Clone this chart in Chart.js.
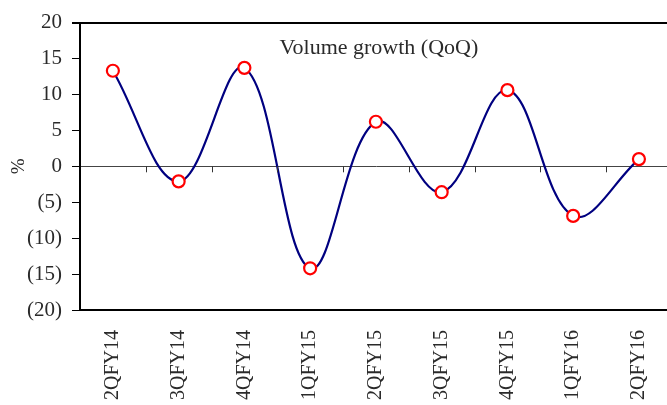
<!DOCTYPE html>
<html>
<head>
<meta charset="utf-8">
<script src="https://cdn.jsdelivr.net/npm/chart.js@4/dist/chart.umd.min.js"></script>
<style>
  html, body { margin: 0; padding: 0; background: #fff; overflow: hidden; }
  #wrap { position: relative; width: 680px; height: 405px; }
</style>
</head>
<body>
<div id="wrap"><canvas id="c"></canvas></div>
<script>
const quarters = ['2QFY14', '3QFY14', '4QFY14', '1QFY15', '2QFY15', '3QFY15', '4QFY15', '1QFY16', '2QFY16'];
const volumeGrowth = [13.3, -2.1, 13.7, -14.2, 6.2, -3.6, 10.6, -6.9, 1.0];
const yTicks = [-20, -15, -10, -5, 0, 5, 10, 15, 20];
const chartTitle = 'Volume growth (QoQ)';
const axisTitle = '%';

const FONT = '"Liberation Serif", "DejaVu Serif", serif';
const TEXT = '#2a2a2a';

// Small tick marks on the zero line between categories, plus the in-plot title
const extras = {
  id: 'extras',
  afterDatasetsDraw(chart) {
    const { ctx, chartArea, scales: { x, y } } = chart;
    const y0 = y.getPixelForValue(0);
    ctx.save();
    ctx.strokeStyle = '#333';
    ctx.lineWidth = 1;
    for (let i = 1; i < quarters.length; i++) {
      const px = Math.round((x.getPixelForValue(i - 1) + x.getPixelForValue(i)) / 2) + 0.5;
      ctx.beginPath();
      ctx.moveTo(px, y0);
      ctx.lineTo(px, y0 + 6);
      ctx.stroke();
    }
    ctx.fillStyle = TEXT;
    ctx.font = '22px ' + FONT;
    ctx.textAlign = 'center';
    ctx.textBaseline = 'middle';
    ctx.fillText(chartTitle, (chartArea.left + chartArea.right) / 2 + 3, chartArea.top + 26);
    ctx.restore();
  }
};

new Chart(document.getElementById('c'), {
  type: 'line',
  data: {
    labels: quarters,
    datasets: [{
      data: volumeGrowth,
      borderColor: '#000080',
      borderWidth: 2.2,
      tension: 0.38,
      pointRadius: 6,
      pointBorderWidth: 2.2,
      pointBorderColor: '#ff0000',
      pointBackgroundColor: '#ffffff',
      clip: false
    }]
  },
  options: {
    responsive: true,
    maintainAspectRatio: false,
    animation: false,
    events: [],
    layout: { padding: { top: 22, right: 8, left: 0, bottom: 0 } },
    plugins: { legend: { display: false }, tooltip: { enabled: false } },
    scales: {
      x: {
        offset: true,
        grid: { display: false },
        border: { display: true, color: '#000', width: 2 },
        ticks: {
          color: TEXT,
          font: { family: FONT, size: 20 },
          minRotation: 90,
          maxRotation: 90,
          padding: 12,
          autoSkip: false
        },
        afterFit(scale) { scale.height = 95; }
      },
      y: {
        min: -20,
        max: 20,
        afterBuildTicks(scale) { scale.ticks = yTicks.map(v => ({ value: v })); },
        grid: {
          drawTicks: true,
          tickLength: 8,
          tickColor: '#000',
          color: ctx => ctx.tick && ctx.tick.value === 0 ? '#444' : (ctx.tick && ctx.tick.value === 20 ? '#000' : 'rgba(0,0,0,0)'),
          lineWidth: ctx => ctx.tick && ctx.tick.value === 20 ? 2 : 1
        },
        border: { display: true, color: '#000', width: 2 },
        ticks: {
          color: TEXT,
          font: { family: FONT, size: 21 },
          padding: 10,
          callback: v => v < 0 ? '(' + Math.abs(v) + ')' : String(v)
        },
        title: {
          display: true,
          text: axisTitle,
          color: TEXT,
          font: { family: FONT, size: 19 },
          padding: { top: 8, bottom: 0 }
        },
        afterFit(scale) { scale.width = 80; }
      }
    }
  },
  plugins: [extras]
});
</script>
</body>
</html>
